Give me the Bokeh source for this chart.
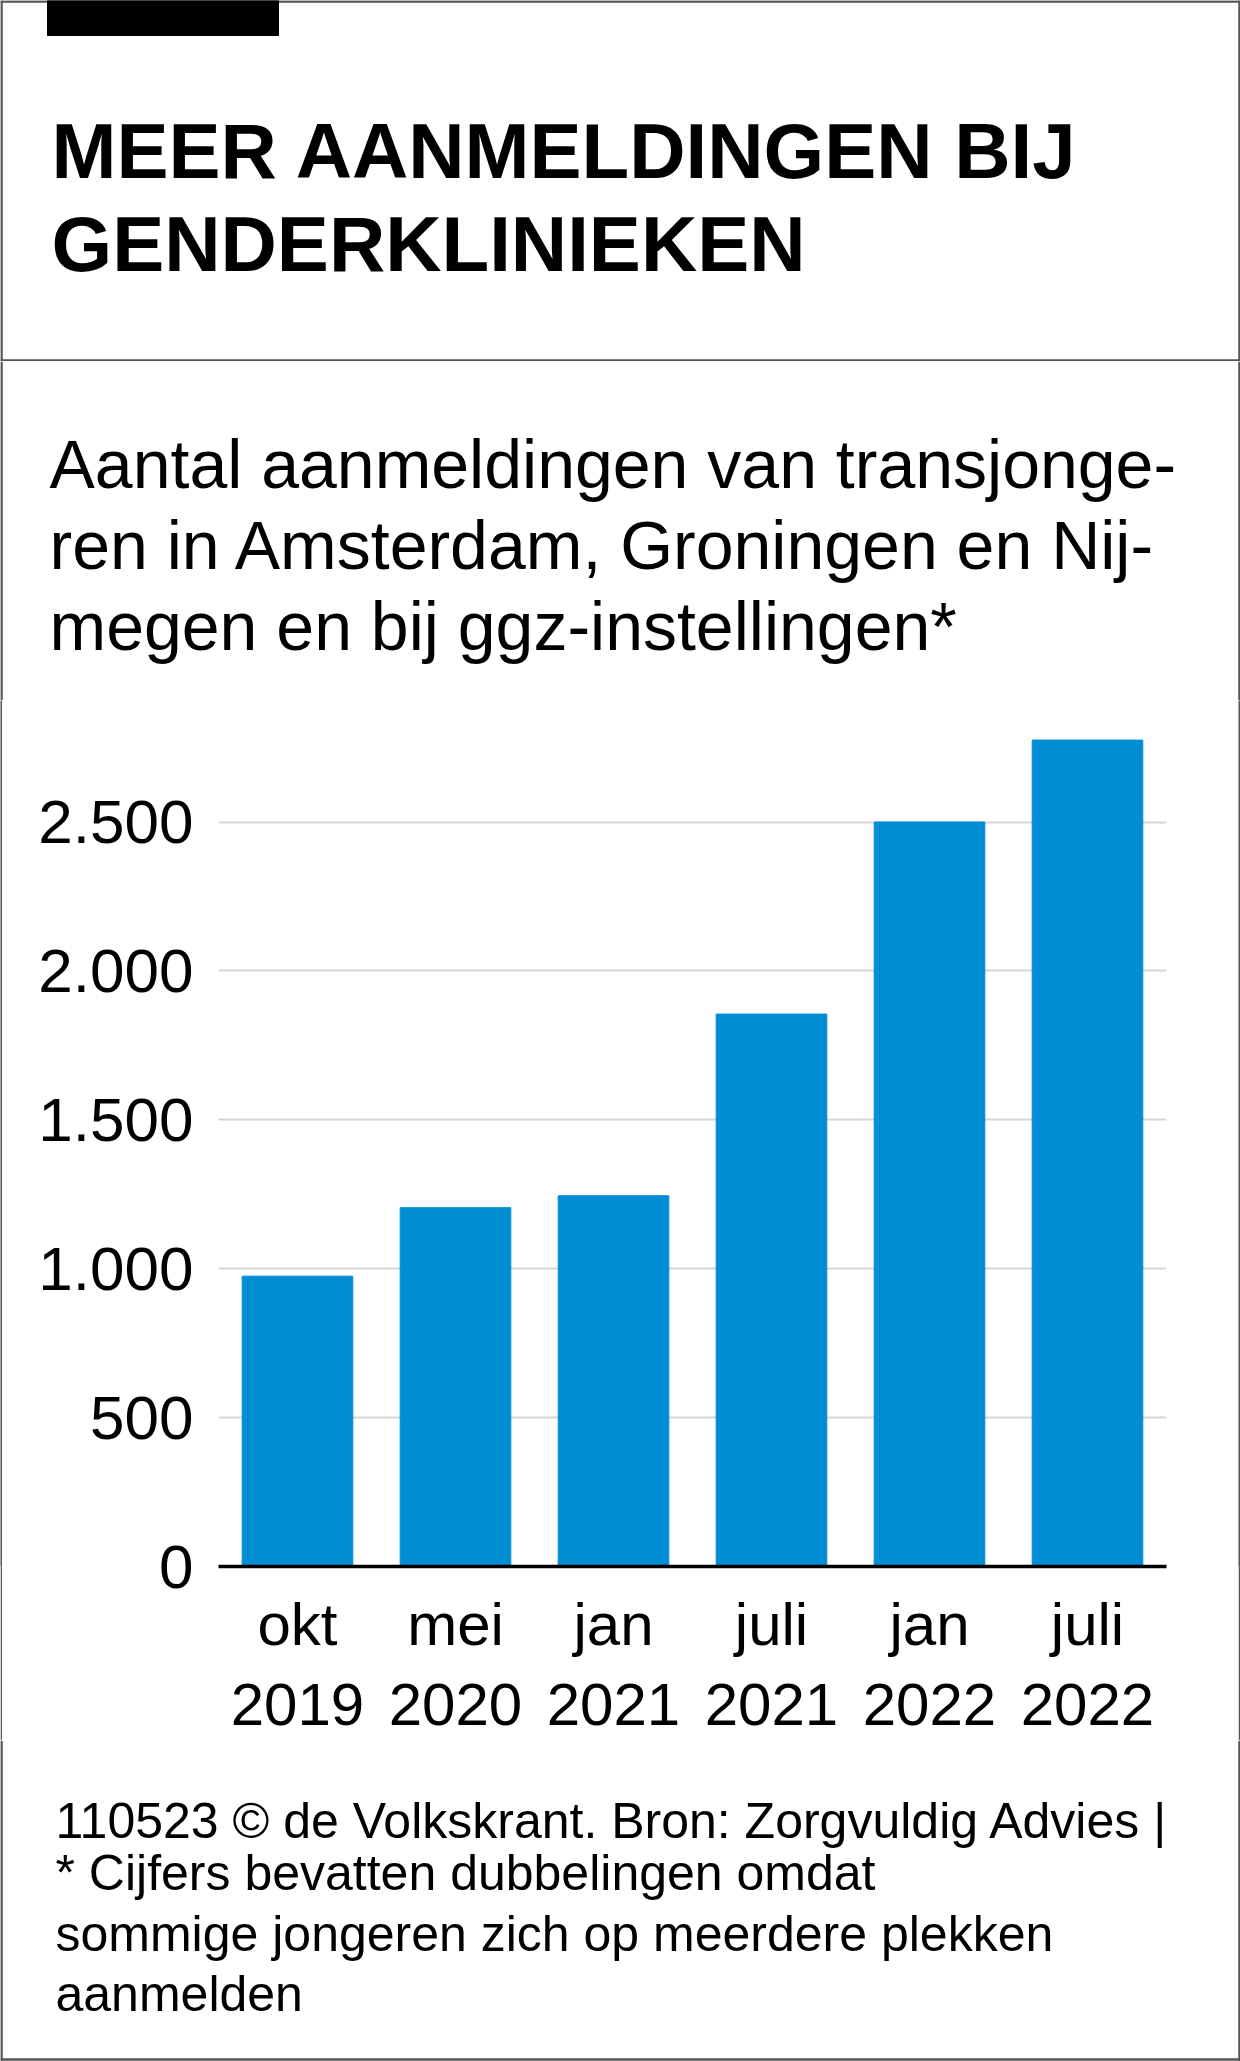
from bokeh.plotting import figure
from bokeh.layouts import column, row
from bokeh.models import Range1d, FactorRange, FixedTicker
from bokeh.core.properties import value
from bokeh.embed import file_html
from bokeh.resources import INLINE

# ---- data ----
periods = ["okt\n2019", "mei\n2020", "jan\n2021", "juli\n2021", "jan\n2022", "juli\n2022"]
aanmeldingen = [975, 1205, 1245, 1855, 2500, 2775]
y_ticks = [0, 500, 1000, 1500, 2000, 2500]
y_tick_labels = ["0", "500", "1.000", "1.500", "2.000", "2.500"]

title_lines = ["MEER AANMELDINGEN BIJ", "GENDERKLINIEKEN"]
subtitle_lines = [
    "Aantal aanmeldingen van transjonge-",
    "ren in Amsterdam, Groningen en Nij-",
    "megen en bij ggz-instellingen*",
]
footer_lines = [
    "110523 \u00a9 de Volkskrant. Bron:  Zorgvuldig Advies |",
    "* Cijfers bevatten dubbelingen omdat",
    "sommige jongeren zich op meerdere plekken",
    "aanmelden",
]

# ---- style ----
W = 1240
BORDER = "#555555"
FONT = "Liberation Sans"
BAR = "#018dd3"


def panel(top, h):
    p = figure(width=W, height=h, x_range=Range1d(0, W), y_range=Range1d(top + h, top),
               min_border=0, toolbar_location=None, output_backend="svg",
               x_axis_location=None, y_axis_location=None, outline_line_color=None)
    p.xgrid.visible = False
    p.ygrid.visible = False
    # side borders
    p.segment(x0=[1, 1239], y0=[top, top], x1=[1, 1239], y1=[top + h, top + h],
              line_color=BORDER, line_width=2.5)
    return p


def strip(h):
    p = figure(width=2, height=h, min_border=0, toolbar_location=None, output_backend="svg",
               x_axis_location=None, y_axis_location=None, outline_line_color=None,
               background_fill_color=BORDER, border_fill_color=BORDER)
    p.xgrid.visible = False
    p.ygrid.visible = False
    p.scatter(x=[0], y=[0], size=0, alpha=0)
    return p


# ---- header ----
head = panel(0, 361)
head.segment(x0=[0, 0], y0=[1, 360], x1=[W, W], y1=[1, 360], line_color=BORDER, line_width=2.5)
head.quad(left=[47], right=[278], top=[0], bottom=[35], color="black")
head.text(x=[51, 51], y=[150, 243], text=title_lines, text_font=value(FONT),
          text_font_style="bold", text_font_size="78px", text_color="black",
          text_align="left", text_baseline="alphabetic")

# ---- subtitle ----
sub = panel(361, 339)
sub.text(x=[49, 49, 49], y=[463, 544, 625], text=subtitle_lines, text_font=value(FONT),
         text_font_size="68px", text_color="black", text_align="left",
         text_baseline="alphabetic")

# ---- chart ----
CH = 1040
chart = figure(width=1236, height=CH, x_range=FactorRange(*periods, range_padding=0),
               y_range=Range1d(0, 2908), min_border_left=216, min_border_right=72,
               min_border_top=0, min_border_bottom=171, toolbar_location=None,
               output_backend="svg", outline_line_color=None)
chart.vbar(x=periods, top=aanmeldingen, width=0.7, color=BAR)

chart.xgrid.visible = False
chart.ygrid.ticker = FixedTicker(ticks=y_ticks)
chart.ygrid.grid_line_color = "#d6d6d6"
chart.ygrid.grid_line_width = 2

chart.yaxis.ticker = FixedTicker(ticks=y_ticks)
chart.yaxis.major_label_overrides = {t: l for t, l in zip(y_ticks, y_tick_labels)}
chart.yaxis.axis_line_color = None
chart.yaxis.major_tick_line_color = None
chart.yaxis.minor_tick_line_color = None
chart.yaxis.major_label_standoff = 19
chart.yaxis.major_label_text_font = FONT
chart.yaxis.major_label_text_font_size = "62px"
chart.yaxis.major_label_text_color = "black"

chart.xaxis.axis_line_color = "black"
chart.xaxis.axis_line_width = 3.5
chart.xaxis.major_tick_line_color = None
chart.xaxis.minor_tick_line_color = None
chart.xaxis.major_label_standoff = 18
chart.xaxis.major_label_text_font = FONT
chart.xaxis.major_label_text_font_size = "60px"
chart.xaxis.major_label_text_color = "black"

chart_row = row(strip(CH), chart, strip(CH), spacing=0)

# ---- footer ----
foot = panel(1740, 321)
foot.segment(x0=[0], y0=[2059], x1=[W], y1=[2059], line_color=BORDER, line_width=2.5)
foot.text(x=[55] * 4, y=[1820, 1872, 1933, 1993], text=footer_lines, text_font=value(FONT),
          text_font_size="50px", text_color="black", text_align="left",
          text_baseline="alphabetic")

layout = column(head, sub, chart_row, foot, spacing=0)

open("out.html", "w").write(file_html(layout, INLINE))
